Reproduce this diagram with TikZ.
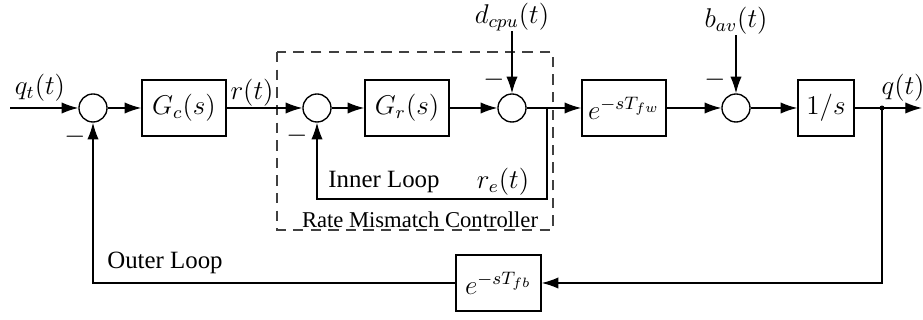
\documentclass[tikz,border=0pt]{standalone}
\usepackage{fontspec}
\setmainfont{Liberation Serif}
\usetikzlibrary{calc,positioning,arrows.meta}

\begin{document}
\begin{tikzpicture}[x=0.4425pt,y=-0.4425pt, line join=miter, >={Latex[length=7.4pt,width=5pt]}]

% ---------- styles ----------
\tikzset{
  blk/.style={draw, line width=0.6pt, minimum width=37.2pt, minimum height=24.8pt, inner sep=0pt, font=\fontsize{12}{14}\selectfont},
  sumnode/.style={draw, circle, line width=0.6pt, minimum size=12.4pt, inner sep=0pt},
  sig/.style={line width=0.6pt},
  lbl/.style={font=\fontsize{12}{14}\selectfont, inner sep=0pt},
  txt/.style={font=\fontsize{11}{13}\selectfont, inner sep=0pt},
  small/.style={font=\fontsize{10}{12}\selectfont, inner sep=0pt},
  neg/.style={font=\fontsize{11.5}{12}\selectfont, inner sep=0pt},
  frame/.style={draw, black!75, dash pattern=on 4.6pt off 3.2pt, line width=0.5pt},
}

\useasboundingbox (0,0) rectangle (923,320);

% ---------- forward path ----------
\coordinate (in) at (10,108);
\node[sumnode] (sumq) at (93,108) {};
\node[blk] (ctrl) at (184,108) {$G_c(s)$};
\node[sumnode] (sumr) at (317,108) {};
\node[blk] (rate) at (407,108) {$G_r(s)$};
\node[sumnode] (sumd) at (512,108) {};
\node[blk] (fwd) at (624,108) {$e^{-sT_{fw}}$};
\node[sumnode] (sumb) at (736,108) {};
\node[blk, minimum width=24.8pt] (integ) at (826,108) {$1/s$};
\coordinate (branch) at (882,108);
\coordinate (out) at (922,108);

% feedback block
\node[blk, minimum width=37.6pt] (fb) at (498.5,283) {$e^{-sT_{fb}}$};

% disturbances
\node[lbl] (dcpu) at (512,17) {$d_{cpu}(t)$};
\node[lbl] (bav) at (736,21) {$b_{av}(t)$};

% ---------- rate mismatch controller frame ----------
\draw[frame] (277,52) rectangle (553,230);

% ---------- connectors ----------
\draw[sig,->] (in) -- (sumq);
\draw[sig,->] (sumq) -- (ctrl);
\draw[sig,->] (ctrl) -- (sumr);
\draw[sig,->] (sumr) -- (rate);
\draw[sig,->] (rate) -- (sumd);
\draw[sig,->] (sumd) -- (fwd);
\draw[sig,->] (fwd) -- (sumb);
\draw[sig,->] (sumb) -- (integ);
\draw[sig,->] (integ) -- (out);
\draw[sig,->] (dcpu) -- (sumd);
\draw[sig,->] (bav) -- (sumb);

% inner loop
\coordinate (tapr) at (547,108);
\coordinate (ril) at (547,199);
\draw[sig,->] (tapr) -- (ril) -| (sumr.south);

% outer loop
\fill (branch) circle (1.1pt);
\draw[sig,->] (branch) |- (fb.east);
\draw[sig,->] (fb.west) -| (sumq.south);

% ---------- signal labels ----------
\node[lbl] at (40,88) {$q_t(t)$};
\node[lbl] at (252,93) {$r(t)$};
\node[lbl] at (903,88) {$q(t)$};
\node[lbl] at (503,182) {$r_e(t)$};
\node[txt] at (384,182) {Inner Loop};
\node[small] at (420,220) {Rate Mismatch Controller};
\node[txt] at (165,263) {Outer Loop};

% minus signs
\node[neg] at (75,137) {$-$};
\node[neg] at (297,136) {$-$};
\node[neg] at (494,80) {$-$};
\node[neg] at (715,80) {$-$};

\end{tikzpicture}
\end{document}
